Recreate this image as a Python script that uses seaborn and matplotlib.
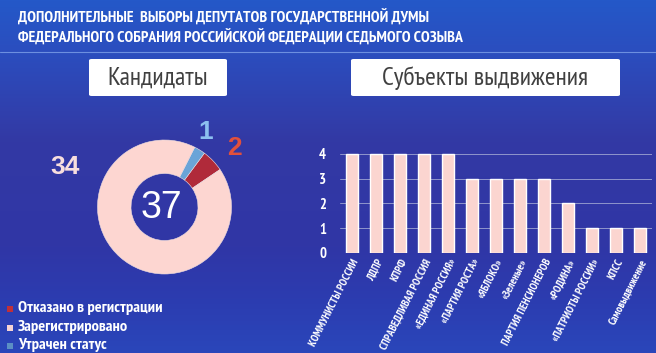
import numpy as np
import pandas as pd
import seaborn as sns
import matplotlib
matplotlib.use("Agg")
from matplotlib import pyplot as plt
from matplotlib.colors import LinearSegmentedColormap
from matplotlib.patches import FancyBboxPatch

# Data
статусы = ['Отказано в регистрации', 'Утрачен статус', 'Зарегистрировано']
кандидаты = [2, 1, 34]
всего = 37

субъекты = ['КОММУНИСТЫ РОССИИ', 'ЛДПР', 'КПРФ', 'СПРАВЕДЛИВАЯ РОССИЯ', '«ЕДИНАЯ РОССИЯ»',
            '«ПАРТИЯ РОСТА»', '«ЯБЛОКО»', '«Зеленые»', 'ПАРТИЯ ПЕНСИОНЕРОВ', '«РОДИНА»',
            '«ПАТРИОТЫ РОССИИ»', 'КПСС', 'Самовыдвижение']
число = [4, 4, 4, 4, 4, 3, 3, 3, 3, 2, 1, 1, 1]
y_ticks = [0, 1, 2, 3, 4]

# Setup
sns.set_style('white')
plt.rcParams['font.family'] = ['PT Sans Narrow', 'DejaVu Sans']
W, H = 656, 353
fig = plt.figure(figsize=(W / 100, H / 100), dpi=100)
NUM_FONT = ['Liberation Sans', 'DejaVu Sans']


def fx(px):
    return px / W


def fy(py):
    return 1 - py / H


# Background gradient
bg = fig.add_axes([0, 0, 1, 1])
cmap = LinearSegmentedColormap.from_list('bg', [(0, '#2458c8'), (0.14, '#2b4ebf'), (0.4, '#3339a4'),
                                                (0.7, '#3036a6'), (0.85, '#2c3cb0'), (1, '#2a46ba')])
bg.imshow(np.linspace(0, 1, 200).reshape(-1, 1), aspect='auto', cmap=cmap, extent=[0, 1, 0, 1])
bg.axhline(fy(52), color='#6d8fe0', linewidth=0.8)
bg.set_xlim(0, 1)
bg.set_ylim(0, 1)
bg.axis('off')

# Title
fig.text(fx(18), fy(23), 'ДОПОЛНИТЕЛЬНЫЕ  ВЫБОРЫ ДЕПУТАТОВ ГОСУДАРСТВЕННОЙ ДУМЫ', color='white',
         fontsize=11.3, fontweight='bold')
fig.text(fx(18), fy(43), 'ФЕДЕРАЛЬНОГО СОБРАНИЯ РОССИЙСКОЙ ФЕДЕРАЦИИ СЕДЬМОГО СОЗЫВА', color='white',
         fontsize=11.3, fontweight='bold')

# Header boxes
for x0, x1, txt in [(89, 227, 'Кандидаты'), (351, 620, 'Субъекты выдвижения')]:
    box = FancyBboxPatch((fx(x0), fy(96)), fx(x1 - x0), (96 - 59) / H,
                         boxstyle='round,pad=0,rounding_size=0.004', transform=fig.transFigure,
                         facecolor='white', edgecolor='none')
    fig.patches.append(box)
    fig.text(fx((x0 + x1) / 2), fy(78), txt, color='#404040', fontsize=18.5,
             ha='center', va='center')

# Donut
cx, cy, r = 164.5, 207, 67
ax_d = fig.add_axes([fx(cx - 75), fy(cy + 75), 150 / W, 150 / H])
цвета = ['#b02a3a', '#6aa4d8', '#fdd6d1']
ax_d.pie(кандидаты, colors=цвета, startangle=34, counterclock=True, radius=r / 75,
         wedgeprops=dict(width=r / 75 * 0.5, edgecolor='#f0e0e0', linewidth=0.4))
ax_d.set_xlim(-1, 1)
ax_d.set_ylim(-1, 1)
ax_d.set_aspect('equal')
ax_d.axis('off')
fig.text(fx(161), fy(208), str(всего), color='white', fontsize=27, ha='center', va='center',
         family=NUM_FONT)
fig.text(fx(65), fy(167), str(кандидаты[2]), color='#f7dede', fontsize=19, fontweight='bold',
         ha='center', va='center', family=NUM_FONT)
fig.text(fx(206), fy(132), str(кандидаты[1]), color='#8cc0f0', fontsize=19, fontweight='bold',
         ha='center', va='center', family=NUM_FONT)
fig.text(fx(234), fy(148), str(кандидаты[0]), color='#e2503c', fontsize=19, fontweight='bold',
         ha='center', va='center', family=NUM_FONT)

# Legend
for ypx, col, txt in [(308, '#c0303a', статусы[0]), (327, '#f6d4d4', статусы[2]), (345, '#5b8fc4', статусы[1])]:
    fig.patches.append(plt.Rectangle((fx(7), fy(ypx + 4)), 6 / W, 6 / H, transform=fig.transFigure,
                                     facecolor=col, edgecolor='none'))
    fig.text(fx(18), fy(ypx), txt, color='white', fontsize=11.8, fontweight='bold', va='center')

# Bar chart
ax = fig.add_axes([fx(340), fy(253), fx(652 - 340), (253 - 150) / H])
df = pd.DataFrame({'субъект': субъекты, 'число': число})
sns.barplot(data=df, x='субъект', y='число', color='#fbd5d0', saturation=1, width=0.5, ax=ax)
ax.set_facecolor('none')
ax.set_xlim(-0.5, len(субъекты) - 0.5)
ax.set_ylim(0, 4.15)
ax.set_yticks(y_ticks)
ax.yaxis.grid(True, color='#8f95cc', linewidth=0.7)
ax.set_axisbelow(True)
for s in ax.spines.values():
    s.set_visible(False)
ax.set_xlabel('')
ax.set_ylabel('')
ax.tick_params(axis='y', colors='white', labelsize=10.5, length=0, pad=10)
for t in ax.get_yticklabels():
    t.set_fontweight('bold')
ax.tick_params(axis='x', colors='white', labelsize=7.8, length=0, pad=3)
ax.set_xticks(range(len(субъекты)))
ax.set_xticklabels(субъекты, rotation=63, ha='right', rotation_mode='anchor', fontweight='bold')

fig.savefig('out.png', dpi=100)
